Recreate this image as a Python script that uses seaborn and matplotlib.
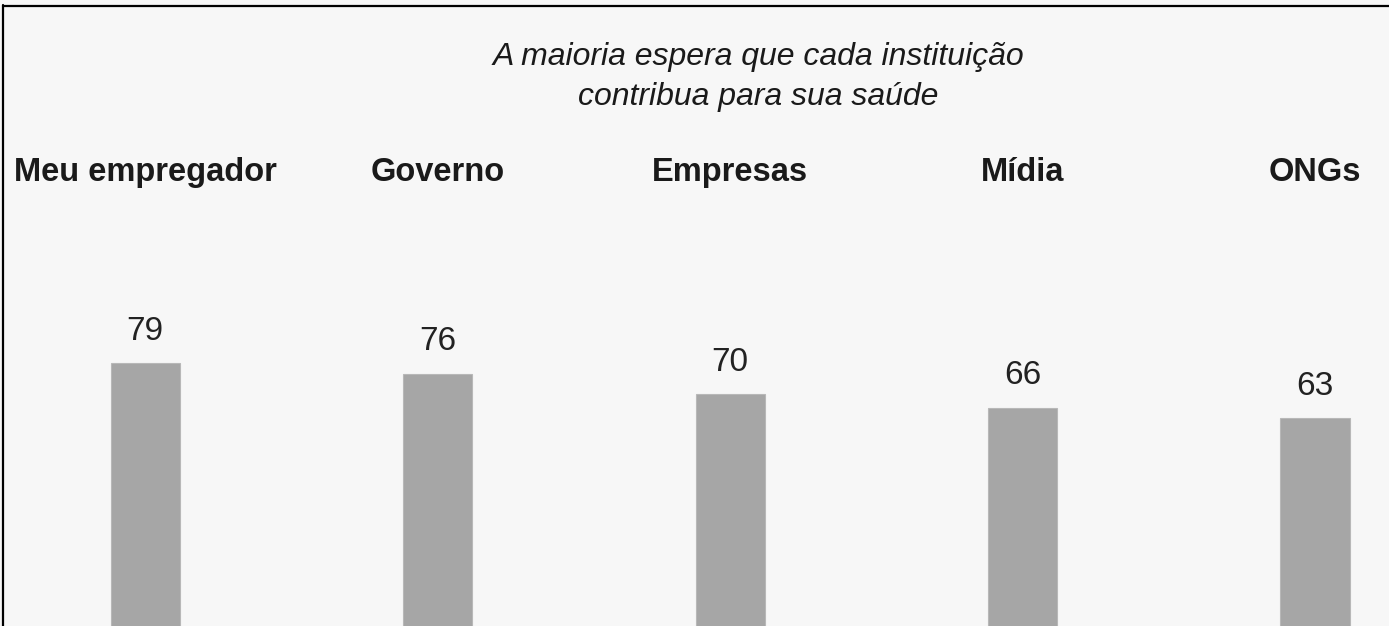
import matplotlib.pyplot as plt
import pandas as pd
import seaborn as sns
from matplotlib.lines import Line2D

# data
categories = ["Meu empregador", "Governo", "Empresas", "Mídia", "ONGs"]
values = [79, 76, 70, 66, 63]
title = "A maioria espera que cada instituição\ncontribua para sua saúde"

bg = "#f7f7f7"
bar_color = "#a6a6a6"

sns.set_style("white", {"axes.facecolor": bg, "figure.facecolor": bg})
plt.rcParams["font.family"] = ["Liberation Sans", "DejaVu Sans"]

df = pd.DataFrame({"categoria": categories, "valor": values})

fig = plt.figure(figsize=(13.89, 6.26), dpi=100)
ax = fig.add_axes([0, 0, 1, 1])

sns.barplot(data=df, x="categoria", y="valor", color=bar_color,
            width=0.236, saturation=1, edgecolor="#b8b8b8", linewidth=0.8, ax=ax)

ax.set_xlim(-0.496, 4.253)
ax.set_ylim(2.6, 184.6)
ax.set_axis_off()

# value labels above each bar
for i, v in enumerate(values):
    ax.annotate(str(v), (i, v), xytext=(0, 12), textcoords="offset points",
                ha="center", va="bottom", fontsize=24, color="#222222")

# category names across the top
for i, c in enumerate(categories):
    ax.text(i, 0.725, c, transform=ax.get_xaxis_transform(), ha="center",
            va="center", fontsize=23.5, fontweight="bold", color="#1a1a1a")

fig.text(0.5457, 0.877, title, ha="center", va="center", fontsize=23,
         style="italic", color="#1a1a1a", linespacing=1.4)

# frame lines on top and left only
fig.add_artist(Line2D([3 / 1389, 1], [1 - 5.5 / 626, 1 - 5.5 / 626],
                      transform=fig.transFigure, color="black", linewidth=1.6))
fig.add_artist(Line2D([3.5 / 1389, 3.5 / 1389], [0, 1 - 5 / 626],
                      transform=fig.transFigure, color="black", linewidth=1.6))

fig.savefig("out.png", dpi=100, facecolor=bg)
